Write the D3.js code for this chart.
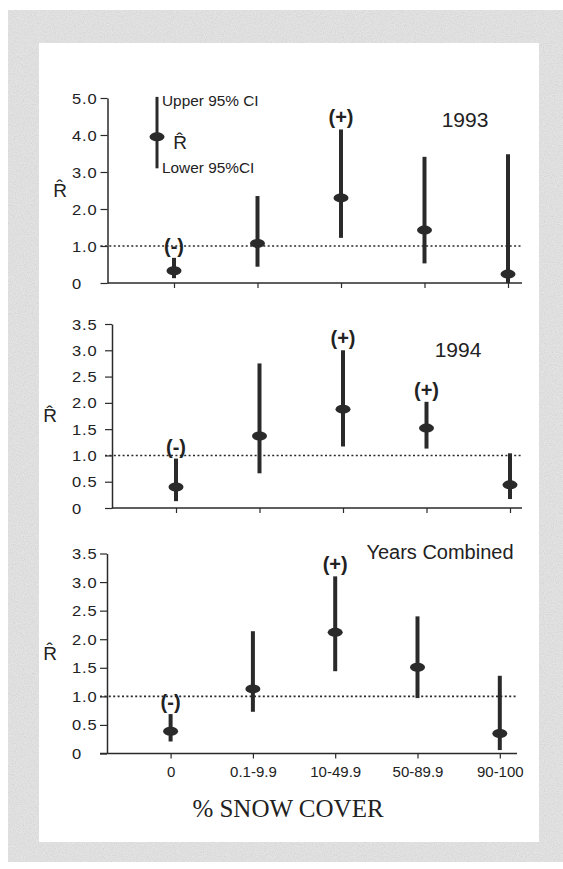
<!DOCTYPE html>
<html>
<head>
<meta charset="utf-8">
<script src="https://cdn.jsdelivr.net/npm/d3@7"></script>
<style>
  body { margin: 0; background: #fff; }
  svg { display: block; }
  text { font-family: "Liberation Sans", Arial, sans-serif; fill: #222; }
</style>
</head>
<body>
<svg id="chart" width="563" height="869"></svg>
<script>
// snow cover classes
var categories = ["0", "0.1-9.9", "10-49.9", "50-89.9", "90-100"];

// 1993
var est1993 = [0.33, 1.07, 2.30, 1.43, 0.24];
var lo1993  = [0.13, 0.44, 1.22, 0.53, 0.00];
var hi1993  = [0.68, 2.35, 4.15, 3.41, 3.48];
var sig1993 = ["(-)", "", "(+)", "", ""];

// 1994
var est1994 = [0.40, 1.37, 1.88, 1.52, 0.44];
var lo1994  = [0.13, 0.66, 1.17, 1.13, 0.17];
var hi1994  = [0.94, 2.75, 3.00, 2.02, 1.04];
var sig1994 = ["(-)", "", "(+)", "(+)", ""];

// years combined
var estAll = [0.39, 1.13, 2.12, 1.51, 0.35];
var loAll  = [0.21, 0.73, 1.44, 0.97, 0.06];
var hiAll  = [0.69, 2.14, 3.10, 2.40, 1.36];
var sigAll = ["(-)", "", "(+)", "", ""];

var ticks1993 = [0, 1, 2, 3, 4, 5];
var ticks35 = [0, 0.5, 1, 1.5, 2, 2.5, 3, 3.5];

// legend sample (lower, estimate, upper) in 1993 units
var legendCI = [3.1, 3.95, 5.03];

var svg = d3.select("#chart");
var ink = "#2a2a2a";

// scanned-paper background
var defs = svg.append("defs");
var f = defs.append("filter").attr("id", "grain")
    .attr("filterUnits", "userSpaceOnUse")
    .attr("x", 8).attr("y", 10).attr("width", 555).attr("height", 852);
f.append("feTurbulence").attr("type", "fractalNoise")
    .attr("baseFrequency", 0.9).attr("numOctaves", 2).attr("seed", 4);
f.append("feColorMatrix").attr("type", "matrix")
    .attr("values", "0.4 0.4 0.4 0 0.25  0.4 0.4 0.4 0 0.25  0.4 0.4 0.4 0 0.25  0 0 0 0 1");

svg.append("rect").attr("x", 8).attr("y", 10).attr("width", 555).attr("height", 852)
    .attr("fill", "#d9d9d9");
svg.append("rect").attr("x", 8).attr("y", 10).attr("width", 555).attr("height", 852)
    .attr("fill", "#fff").attr("filter", "url(#grain)").attr("opacity", 0.3);
svg.append("rect").attr("x", 39).attr("y", 43).attr("width", 500).attr("height", 799)
    .attr("fill", "#fff");

var panels = [
  { est: est1993, lo: lo1993, hi: hi1993, sig: sig1993, ticks: ticks1993, yMax: 5,
    axisX: 107.5, xStart: 107.5, xEnd: 522, cat: [174, 508], yr: [283, 98],
    labelX: 60, title: "1993", titleX: 465, titleY: 127, titleSize: 21, legend: true },
  { est: est1994, lo: lo1994, hi: hi1994, sig: sig1994, ticks: ticks35, yMax: 3.5,
    axisX: 112, xStart: 112, xEnd: 522, cat: [176, 510], yr: [508, 324],
    labelX: 50, title: "1994", titleX: 458, titleY: 356.5, titleSize: 21 },
  { est: estAll, lo: loAll, hi: hiAll, sig: sigAll, ticks: ticks35, yMax: 3.5,
    axisX: 107, xStart: 100, xEnd: 517, cat: [170.6, 499.8], yr: [753.5, 553.5],
    labelX: 50, title: "Years Combined", titleX: 440, titleY: 559, titleSize: 20, xLabels: true }
];

var fmt = function(d) { return d === 0 ? "0" : d.toFixed(1); };

// stretched text, like the scanned original
function wide(g, x, y, str, size, sx, anchor) {
  return g.append("text")
      .attr("transform", "translate(" + x + "," + y + ") scale(" + sx + ",1)")
      .attr("font-size", size)
      .attr("text-anchor", anchor || "start")
      .text(str);
}

// R with a circumflex, as one text
var RHAT = "R\u0302";

panels.forEach(function(p) {
  var g = svg.append("g");
  var x = d3.scalePoint().domain(categories).range(p.cat);
  var y = d3.scaleLinear().domain([0, p.yMax]).range(p.yr);

  // y axis
  var ya = g.append("g")
      .attr("transform", "translate(" + p.axisX + ",0)")
      .call(d3.axisLeft(y).tickValues(p.ticks).tickSize(7).tickSizeOuter(0).tickFormat(""));
  ya.select(".domain").attr("stroke", ink).attr("stroke-width", 1.5);
  ya.selectAll(".tick line").attr("stroke", ink).attr("stroke-width", 1.2);

  g.selectAll(".ylab")
    .data(p.ticks)
    .enter().append("text")
      .attr("class", "ylab")
      .attr("transform", function(d) { return "translate(72," + (y(d) + 5.5) + ") scale(1.1,1)"; })
      .attr("font-size", 15)
      .attr("letter-spacing", 0.8)
      .text(fmt);

  // x axis
  g.append("line")
      .attr("x1", p.xStart).attr("x2", p.xEnd)
      .attr("y1", y(0)).attr("y2", y(0))
      .attr("stroke", ink).attr("stroke-width", 1.5);
  var xa = g.append("g")
      .attr("transform", "translate(0," + y(0) + ")")
      .call(d3.axisBottom(x).tickSize(5).tickSizeOuter(0).tickPadding(8));
  xa.select(".domain").remove();
  xa.selectAll(".tick line").attr("stroke", ink).attr("stroke-width", 1.2);
  xa.selectAll(".tick text")
      .attr("font-size", 15)
      .style("font-family", "'Liberation Sans', Arial, sans-serif")
      .style("fill", "#222")
      .style("display", p.xLabels ? null : "none");

  // R = 1 reference
  g.append("line")
      .attr("x1", p.axisX - 7).attr("x2", p.xEnd)
      .attr("y1", y(1)).attr("y2", y(1))
      .attr("stroke", ink).attr("stroke-width", 1.6)
      .attr("stroke-dasharray", "2,2.4");

  // y label R-hat
  var mid = (p.yr[0] + p.yr[1]) / 2 + 6;
  g.append("text").attr("x", p.labelX).attr("y", mid)
      .attr("font-size", 19).attr("text-anchor", "middle").text(RHAT);

  var rows = categories.map(function(c, i) {
    return { c: c, est: p.est[i], lo: p.lo[i], hi: p.hi[i], sig: p.sig[i] };
  });

  g.selectAll(".ci")
    .data(rows)
    .enter().append("line")
      .attr("class", "ci")
      .attr("x1", function(d) { return x(d.c); })
      .attr("x2", function(d) { return x(d.c); })
      .attr("y1", function(d) { return y(d.lo); })
      .attr("y2", function(d) { return y(d.hi); })
      .attr("stroke", ink).attr("stroke-width", 4);

  g.selectAll(".pt")
    .data(rows)
    .enter().append("ellipse")
      .attr("class", "pt")
      .attr("cx", function(d) { return x(d.c); })
      .attr("cy", function(d) { return y(d.est); })
      .attr("rx", 7.5).attr("ry", 4.5)
      .attr("fill", ink);

  g.selectAll(".sig")
    .data(rows.filter(function(d) { return d.sig; }))
    .enter().append("text")
      .attr("class", "sig")
      .attr("x", function(d) { return x(d.c); })
      .attr("y", function(d) { return y(d.hi) - 5; })
      .attr("font-size", 20).attr("font-weight", "bold")
      .attr("text-anchor", "middle")
      .text(function(d) { return d.sig; });

  g.append("text")
      .attr("x", p.titleX).attr("y", p.titleY)
      .attr("font-size", p.titleSize).attr("text-anchor", "middle")
      .text(p.title);

  if (p.legend) {
    var lx = 157;
    g.append("line")
        .attr("x1", lx).attr("x2", lx)
        .attr("y1", y(legendCI[0])).attr("y2", y(legendCI[2]))
        .attr("stroke", ink).attr("stroke-width", 3);
    g.append("ellipse")
        .attr("cx", lx).attr("cy", y(legendCI[1]))
        .attr("rx", 7.5).attr("ry", 4.5).attr("fill", ink);
    wide(g, 162, y(legendCI[2]) + 9, "Upper 95% CI", 14, 1.1);
    wide(g, 162, y(legendCI[0]) + 5, "Lower 95%CI", 14, 1.1);
    g.append("text").attr("x", 180).attr("y", y(legendCI[1]) + 12)
        .attr("font-size", 19).attr("text-anchor", "middle").text(RHAT);
  }
});

svg.append("text")
    .attr("x", 288).attr("y", 817)
    .style("font-family", "'Liberation Serif', 'Times New Roman', serif")
    .attr("font-size", 25).attr("text-anchor", "middle")
    .text("% SNOW COVER");
</script>
</body>
</html>
